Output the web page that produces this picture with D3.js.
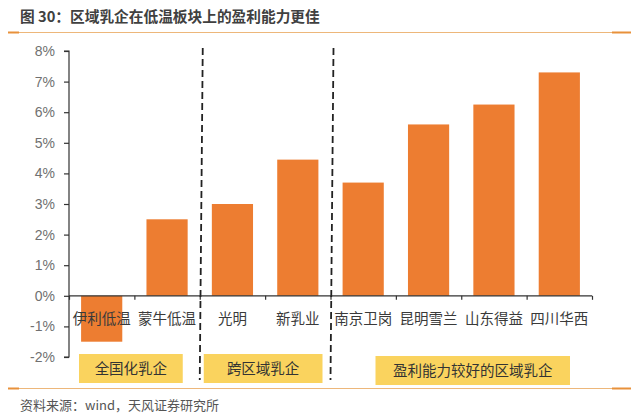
<!DOCTYPE html>
<html><head><meta charset="utf-8">
<script src="https://cdn.jsdelivr.net/npm/d3@7/dist/d3.min.js"></script>
<style>body{margin:0;background:#fff}svg{display:block}</style>
</head><body>
<script>
const categories = ["伊利低温","蒙牛低温","光明","新乳业","南京卫岗","昆明雪兰","山东得益","四川华西"];
const values = [-1.5, 2.5, 3.0, 4.45, 3.7, 5.6, 6.25, 7.3];
const yTicks = [-2,-1,0,1,2,3,4,5,6,7,8];
const groupLabels = ["全国化乳企", "跨区域乳企", "盈利能力较好的区域乳企"];
const groupStart = [0, 2, 4];
const groupEnd = [1, 3, 7];
const dividers = [2, 4];
const title = "图 30：区域乳企在低温板块上的盈利能力更佳";
const source = "资料来源：wind，天风证券研究所";

// layout (pixel insets of the label boxes within their group span)
const boxInsetL = [10, 4, 45];
const boxInsetR = [17, 8, 22];

const W = 635, H = 419;
const svg = d3.select("body").append("svg").attr("width", W).attr("height", H);
const cjk = "'Noto Sans CJK SC','Noto Sans',sans-serif";

const x = d3.scaleBand().domain(categories).range([69, 592]).paddingInner(0.37).paddingOuter(0.185);
const xb = d3.scaleLinear().domain([0, categories.length]).range([69, 592]);
const y = d3.scaleLinear().domain([-2, 8]).range([357, 51]);

// title
svg.append("text").attr("x", 20).attr("y", 22).attr("font-family", cjk).attr("font-weight", "bold")
  .attr("font-size", 14.7).attr("fill", "#404040").text(title);
svg.append("line").attr("x1", 8).attr("x2", 631).attr("y1", 32.5).attr("y2", 32.5).attr("stroke", "#EDB77A").attr("stroke-width", 1);
svg.append("line").attr("x1", 8).attr("x2", 19).attr("y1", 32.5).attr("y2", 32.5).attr("stroke", "#E8913A").attr("stroke-width", 2);
svg.append("line").attr("x1", 612).attr("x2", 631).attr("y1", 32.5).attr("y2", 32.5).attr("stroke", "#E8913A").attr("stroke-width", 2);

// bars
svg.selectAll("rect.bar").data(values).enter().append("rect").attr("class", "bar")
  .attr("x", (d, i) => x(categories[i])).attr("width", x.bandwidth())
  .attr("y", d => y(Math.max(0, d))).attr("height", d => Math.abs(y(d) - y(0)))
  .attr("fill", "#ED7D31");

// y axis
const ya = svg.append("g").attr("transform", "translate(69,0)")
  .call(d3.axisLeft(y).tickValues(yTicks).tickSize(5).tickFormat(d => d + "%"));
ya.select(".domain").attr("stroke", "#333").attr("stroke-width", 1.2).attr("d", `M-5,${y(8)}H0V${y(-2)}H-5`);
ya.selectAll(".tick line").attr("stroke", "#333").attr("stroke-width", 1.2);
ya.selectAll(".tick text").attr("font-family", "'Liberation Sans',Arial,sans-serif").attr("font-size", 14)
  .attr("fill", "#707070").attr("x", -14);

// x axis at zero
const xa = svg.append("g").attr("transform", `translate(0,${y(0)})`)
  .call(d3.axisBottom(xb).tickValues(d3.range(0, categories.length + 1)).tickSize(4).tickFormat(""));
xa.select(".domain").attr("stroke", "#333").attr("stroke-width", 1.2).attr("d", `M69,0H592`);
xa.selectAll(".tick line").attr("stroke", "#333").attr("stroke-width", 1.2);

// category labels
svg.selectAll("text.cat").data(categories).enter().append("text").attr("class", "cat")
  .attr("x", d => x(d) + x.bandwidth() / 2).attr("y", 324)
  .attr("text-anchor", "middle").attr("font-family", cjk).attr("font-size", 14.5).attr("fill", "#3a3a3a")
  .text(d => d);

// dividers
svg.selectAll("line.div").data(dividers).enter().append("line").attr("class", "div")
  .attr("x1", d => xb(d) + 3).attr("x2", d => xb(d)).attr("y1", 48).attr("y2", 380)
  .attr("stroke", "#222").attr("stroke-width", 1.8).attr("stroke-dasharray", "7,4");

// group boxes
const gb = svg.selectAll("g.grp").data(groupLabels).enter().append("g").attr("class", "grp");
const bx0 = i => xb(groupStart[i]) + boxInsetL[i];
const bx1 = i => xb(groupEnd[i] + 1) - boxInsetR[i];
gb.append("rect")
  .attr("x", (d, i) => bx0(i)).attr("width", (d, i) => bx1(i) - bx0(i))
  .attr("y", (d, i) => i === 2 ? 356 : 354).attr("height", 29).attr("fill", "#FAD35E");
gb.append("text").attr("x", (d, i) => (bx0(i) + bx1(i)) / 2).attr("y", (d, i) => i === 2 ? 376 : 374)
  .attr("text-anchor", "middle").attr("font-family", cjk).attr("font-size", 14.5).attr("fill", "#333")
  .text(d => d);

// bottom line & source
svg.append("line").attr("x1", 8).attr("x2", 631).attr("y1", 388.5).attr("y2", 388.5).attr("stroke", "#EDB77A").attr("stroke-width", 1);
svg.append("line").attr("x1", 8).attr("x2", 19).attr("y1", 388.5).attr("y2", 388.5).attr("stroke", "#E8913A").attr("stroke-width", 2);
svg.append("line").attr("x1", 612).attr("x2", 631).attr("y1", 388.5).attr("y2", 388.5).attr("stroke", "#E8913A").attr("stroke-width", 2);
svg.append("text").attr("x", 20).attr("y", 410).attr("font-family", cjk).attr("font-size", 13).attr("fill", "#555").text(source);
</script>
</body></html>
